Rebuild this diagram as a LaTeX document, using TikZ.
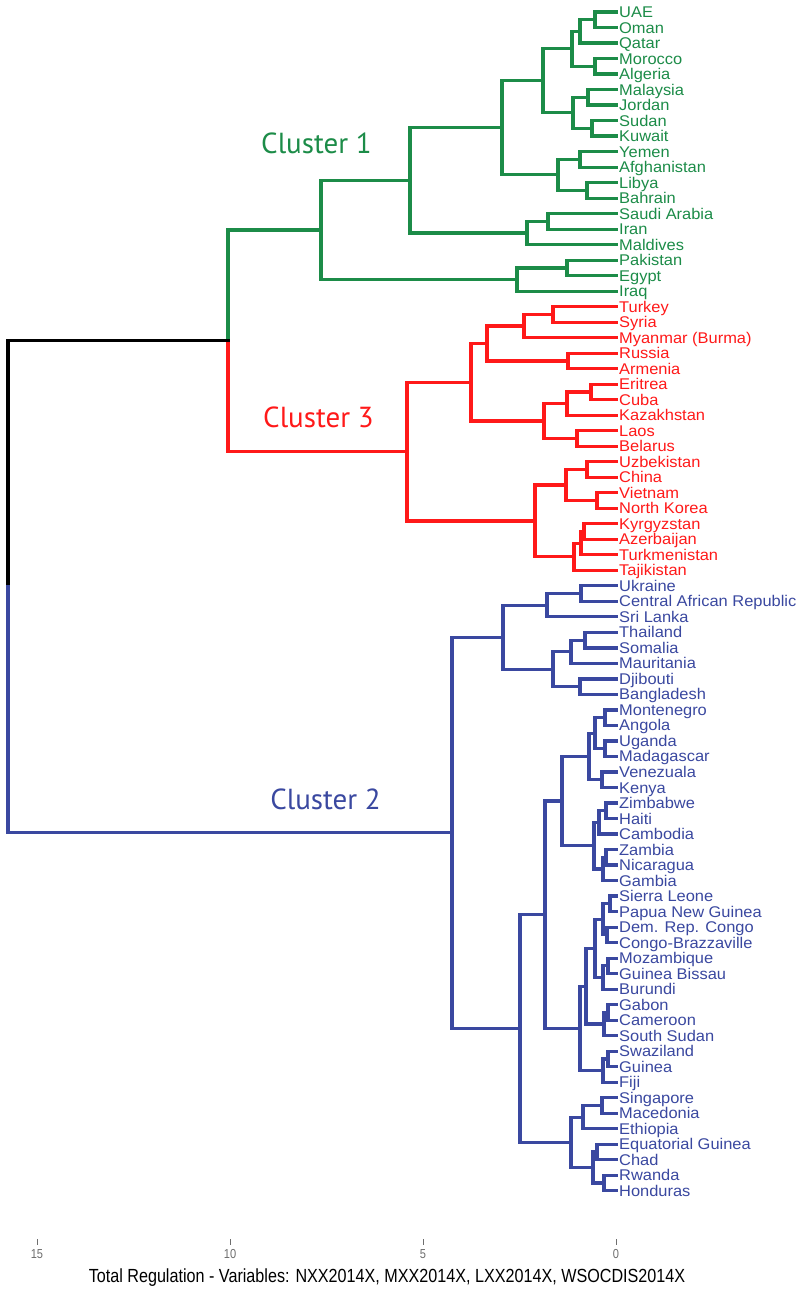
\documentclass[tikz,border=0pt]{standalone}
\usepackage{fontspec}
\setmainfont{Liberation Sans}
\newfontfamily\lblfont[FakeStretch=1.06]{Liberation Sans}
\newfontfamily\axfont[FakeStretch=0.85]{Liberation Sans}
\newfontfamily\clfont{PT Sans}
\usetikzlibrary{calc}
\definecolor{cgreen}{RGB}{28,140,72}
\definecolor{cred}{RGB}{255,25,25}
\definecolor{cblue}{RGB}{58,72,160}
\definecolor{axgrey}{RGB}{110,110,110}
\newcommand\mrg[4]{\path let \p1=(#3), \p2=(#4), \p3=(#2,0) in coordinate (#1) at (\x3,{0.5*\y1+0.5*\y2});}
\newcommand\mrgd[5]{\mrg{#2}{#3}{#4}{#5}\draw[branch,#1] (#2) |- (#4) (#2) |- (#5);}
\tikzset{
  branch/.style={line width=3.2pt, line cap=rect, line join=miter},
  leaf/.style={anchor=base west, inner sep=0pt, font=\lblfont\fontsize{15.5}{15.5}\selectfont},
  cluster/.style={inner sep=0pt, font=\clfont\fontsize{29}{29}\selectfont},
  axlab/.style={inner sep=0pt, text=axgrey, font=\axfont\fontsize{13}{13}\selectfont},
}
\begin{document}
\begin{tikzpicture}[x=1pt,y=-1pt]
\fill[white] (0,0) rectangle (803,1290);
\useasboundingbox (0,0) rectangle (803,1290);
% leaves
\foreach \t [count=\i from 0] in {UAE,Oman,Qatar,Morocco,Algeria,Malaysia,Jordan,Sudan,Kuwait,Yemen,Afghanistan,Libya,Bahrain,Saudi Arabia,Iran,Maldives,Pakistan,Egypt,Iraq}{
  \coordinate (L\i) at (616,{12+15.51*\i});
  \node[leaf,text=cgreen] (T\i) at (619,{12+15.51*\i+5.5}) {\t};}
\foreach \t [count=\i from 19] in {Turkey,Syria,Myanmar (Burma),Russia,Armenia,Eritrea,Cuba,Kazakhstan,Laos,Belarus,Uzbekistan,China,Vietnam,North Korea,Kyrgyzstan,Azerbaijan,Turkmenistan,Tajikistan}{
  \coordinate (L\i) at (616,{12+15.51*\i});
  \node[leaf,text=cred] (T\i) at (619,{12+15.51*\i+5.5}) {\t};}
\foreach \t [count=\i from 37] in {Ukraine,Central African Republic,Sri Lanka,Thailand,Somalia,Mauritania,Djibouti,Bangladesh,Montenegro,Angola,Uganda,Madagascar,Venezuala,Kenya,Zimbabwe,Haiti,Cambodia,Zambia,Nicaragua,Gambia,Sierra Leone,Papua New Guinea,Dem. Rep. Congo,Congo-Brazzaville,Mozambique,Guinea Bissau,Burundi,Gabon,Cameroon,South Sudan,Swaziland,Guinea,Fiji,Singapore,Macedonia,Ethiopia,Equatorial Guinea,Chad,Rwanda,Honduras}{
  \coordinate (L\i) at (616,{12+15.51*\i});
  \node[leaf,text=cblue] (T\i) at (619,{12+15.51*\i+5.5}) {\t};}
% green cluster
\mrgd{cgreen}{g1}{595}{L0}{L1}
\mrgd{cgreen}{g2}{580}{g1}{L2}
\mrgd{cgreen}{g3}{595}{L3}{L4}
\mrgd{cgreen}{g4}{572}{g2}{g3}
\mrgd{cgreen}{g5}{588}{L5}{L6}
\mrgd{cgreen}{g6}{592}{L7}{L8}
\mrgd{cgreen}{g7}{573}{g5}{g6}
\mrgd{cgreen}{g8}{543}{g4}{g7}
\mrgd{cgreen}{g9}{580}{L9}{L10}
\mrgd{cgreen}{g10}{587}{L11}{L12}
\mrgd{cgreen}{g11}{558}{g9}{g10}
\mrgd{cgreen}{g12}{502}{g8}{g11}
\mrgd{cgreen}{g13}{548}{L13}{L14}
\mrgd{cgreen}{g14}{527}{g13}{L15}
\mrgd{cgreen}{g15}{410}{g12}{g14}
\mrgd{cgreen}{g16}{567}{L16}{L17}
\mrgd{cgreen}{g17}{517}{g16}{L18}
\mrgd{cgreen}{g18}{321}{g15}{g17}
% red cluster
\mrgd{cred}{r1}{553}{L19}{L20}
\mrgd{cred}{r2}{524}{r1}{L21}
\mrgd{cred}{r3}{568}{L22}{L23}
\mrgd{cred}{r4}{487}{r2}{r3}
\mrgd{cred}{r5}{591}{L24}{L25}
\mrgd{cred}{r6}{567}{r5}{L26}
\mrgd{cred}{r7}{577}{L27}{L28}
\mrgd{cred}{r8}{544}{r6}{r7}
\mrgd{cred}{r9}{471}{r4}{r8}
\mrgd{cred}{r10}{587}{L29}{L30}
\mrgd{cred}{r11}{597}{L31}{L32}
\mrgd{cred}{r12}{566}{r10}{r11}
\mrgd{cred}{r13}{584}{L33}{L34}
\mrgd{cred}{r14}{581}{r13}{L35}
\mrgd{cred}{r15}{574}{r14}{L36}
\mrgd{cred}{r16}{535}{r12}{r15}
\mrgd{cred}{r17}{407}{r9}{r16}
% blue cluster
\mrgd{cblue}{b1}{581}{L37}{L38}
\mrgd{cblue}{b2}{547}{b1}{L39}
\mrgd{cblue}{b3}{585}{L40}{L41}
\mrgd{cblue}{b4}{571}{b3}{L42}
\mrgd{cblue}{b5}{580}{L43}{L44}
\mrgd{cblue}{b6}{553}{b4}{b5}
\mrgd{cblue}{b7}{503}{b2}{b6}
\mrgd{cblue}{b8}{605}{L45}{L46}
\mrgd{cblue}{b9}{605}{L47}{L48}
\mrgd{cblue}{b10}{595}{b8}{b9}
\mrgd{cblue}{b11}{602}{L49}{L50}
\mrgd{cblue}{b12}{589}{b10}{b11}
\mrgd{cblue}{b13}{606}{L51}{L52}
\mrgd{cblue}{b14}{599}{b13}{L53}
\mrgd{cblue}{b15}{606}{L54}{L55}
\mrgd{cblue}{b16}{603}{b15}{L56}
\mrgd{cblue}{b17}{594}{b14}{b16}
\mrgd{cblue}{b18}{562}{b12}{b17}
\mrgd{cblue}{b19}{610}{L57}{L58}
\mrgd{cblue}{b20}{607}{L59}{L60}
\mrgd{cblue}{b21}{603}{b19}{b20}
\mrgd{cblue}{b22}{608}{L61}{L62}
\mrgd{cblue}{b23}{603}{b22}{L63}
\mrgd{cblue}{b24}{595}{b21}{b23}
\mrgd{cblue}{b25}{608}{L64}{L65}
\mrgd{cblue}{b26}{604}{b25}{L66}
\mrgd{cblue}{b27}{586}{b24}{b26}
\mrgd{cblue}{b28}{608}{L67}{L68}
\mrgd{cblue}{b29}{603}{b28}{L69}
\mrgd{cblue}{b30}{580}{b27}{b29}
\mrgd{cblue}{b31}{545}{b18}{b30}
\mrgd{cblue}{b32}{602}{L70}{L71}
\mrgd{cblue}{b33}{583}{b32}{L72}
\mrgd{cblue}{b34}{597}{L73}{L74}
\mrgd{cblue}{b35}{604}{L75}{L76}
\mrgd{cblue}{b36}{593}{b34}{b35}
\mrgd{cblue}{b37}{571}{b33}{b36}
\mrgd{cblue}{b38}{520}{b31}{b37}
\mrgd{cblue}{b39}{452}{b7}{b38}
% top levels
\mrg{k1}{228}{g18}{r17}
\draw[branch,cgreen] (k1) |- (g18);
\draw[branch,cred] (k1) |- (r17);
\mrg{root}{8}{k1}{b39}
\draw[branch,black] (root) |- (k1);
\draw[branch,cblue] (root) |- (b39);
% cluster labels
\node[cluster,text=cgreen,anchor=base west] (c1) at (261,153) {Cluster 1};
\node[cluster,text=cred,anchor=base west] (c3) at (263,427) {Cluster 3};
\node[cluster,text=cblue,anchor=base east] (c2) at (381,809) {Cluster 2};
% axis
\foreach \v in {0,5,10,15}{
  \draw[axgrey,line width=0.8pt] ({616-38.6*\v},1239) -- ({616-38.6*\v},1245);
  \node[axlab] (ax\v) at ({616-38.6*\v},1254) {\v};}
\node[inner sep=0pt,font=\axfont\fontsize{19}{19}\selectfont] (title) at (387,1278) {Total Regulation - Variables: NXX2014X, MXX2014X, LXX2014X, WSOCDIS2014X};
\end{tikzpicture}
\end{document}
